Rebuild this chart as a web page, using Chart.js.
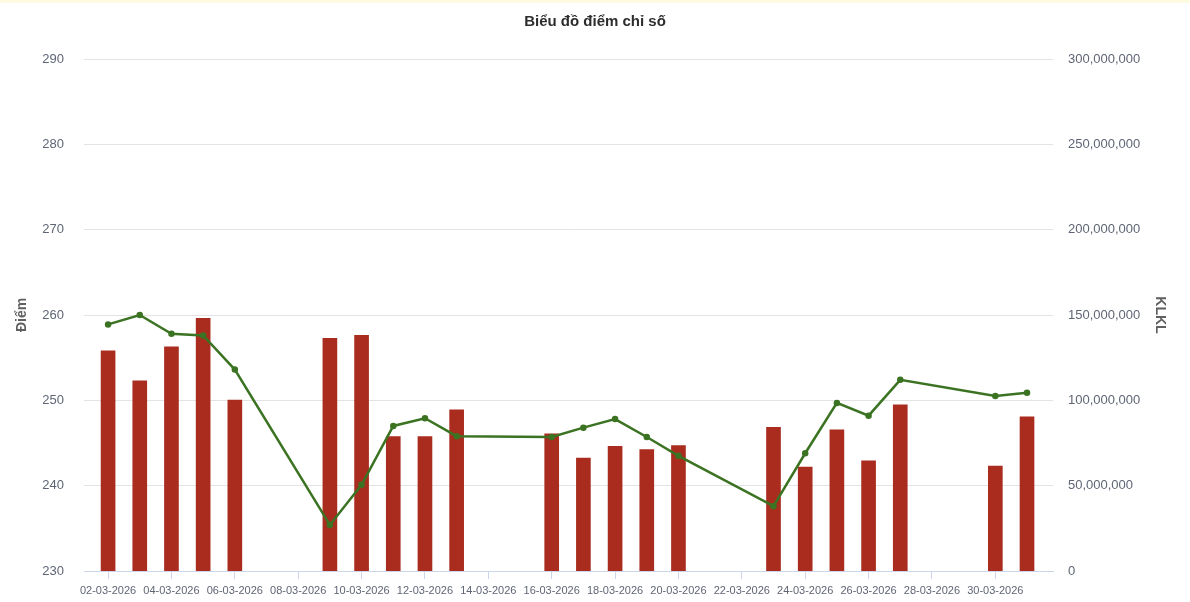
<!DOCTYPE html>
<html lang="vi">
<head>
    <meta charset="UTF-8">
    <title>Biểu đồ điểm chỉ số</title>
    <script src="https://cdn.jsdelivr.net/npm/chart.js"></script>
    <style>
        html, body { margin: 0; padding: 0; background: #fff; }
        body { border-top: 3px solid #fffbe3; }
        #wrap { width: 1190px; height: 599px; }
    </style>
</head>
<body>
    <div id="wrap"><canvas id="myChart"></canvas></div>
    <script>
        // ngày trong tháng 03-2026
        const days = [2, 3, 4, 5, 6, 9, 10, 11, 12, 13, 16, 17, 18, 19, 20, 23, 24, 25, 26, 27, 30, 31];
        // điểm chỉ số (trục trái)
        const points = [258.9, 260.0, 257.8, 257.6, 253.6, 235.4, 240.1, 247.0, 247.9, 245.8,
                        245.7, 246.8, 247.8, 245.7, 243.5, 237.6, 243.8, 249.7, 248.2, 252.4, 250.5, 250.9];
        // khối lượng khớp lệnh (trục phải)
        const volumes = [129000000, 111500000, 131300000, 148100000, 100200000, 136400000, 138100000, 78800000,
                         78800000, 94400000, 80400000, 66100000, 73000000, 71200000, 73500000, 84200000,
                         60900000, 82700000, 64600000, 97300000, 61500000, 90300000];
        const leftTicks = [230, 240, 250, 260, 270, 280, 290];
        const rightTicks = [0, 50000000, 100000000, 150000000, 200000000, 250000000, 300000000];

        const font = "'Liberation Sans', Arial, sans-serif";
        const labelColor = "#5f6574";

        let ctx = document.getElementById("myChart").getContext("2d");

        window.myChart = new Chart(ctx, {
            data: {
                datasets: [{
                    type: "line",
                    label: "Điểm",
                    data: days.map((d, i) => ({ x: d, y: points[i] })),
                    yAxisID: "y",
                    borderColor: "#3b7322",
                    backgroundColor: "#3b7322",
                    borderWidth: 2.5,
                    pointRadius: 2,
                    tension: 0,
                    order: 0
                }, {
                    type: "bar",
                    label: "KLKL",
                    data: days.map((d, i) => ({ x: d, y: volumes[i] })),
                    yAxisID: "y1",
                    backgroundColor: "#a92c1f",
                    borderWidth: 0,
                    barThickness: 14,
                    order: 1
                }]
            },
            options: {
                responsive: true,
                maintainAspectRatio: false,
                animation: false,
                layout: { padding: 0 },
                plugins: {
                    legend: { display: false },
                    tooltip: { enabled: false },
                    title: {
                        display: true,
                        text: "Biểu đồ điểm chỉ số",
                        color: "#2d2d2d",
                        font: { family: font, size: 15, weight: "bold" },
                        padding: { top: 10, bottom: 28 }
                    }
                },
                scales: {
                    x: {
                        type: "linear",
                        offset: false,
                        min: 1.24,
                        max: 31.82,
                        afterBuildTicks: axis => {
                            axis.ticks = [];
                            for (let d = 2; d <= 30; d += 2) axis.ticks.push({ value: d });
                        },
                        afterFit: axis => { axis.height = 31; },
                        grid: { display: true, drawOnChartArea: false, tickLength: 8, color: "#ccd6eb", offset: false },
                        border: { color: "#ccd6eb" },
                        ticks: {
                            color: labelColor,
                            padding: 5,
                            maxRotation: 0,
                            autoSkip: false,
                            font: { family: font, size: 11 },
                            callback: v => String(v).padStart(2, "0") + "-03-2026"
                        }
                    },
                    y: {
                        position: "left",
                        min: 230,
                        max: 290,
                        afterBuildTicks: axis => { axis.ticks = leftTicks.map(v => ({ value: v })); },
                        afterFit: axis => { axis.width = 84; },
                        grid: { color: "#e3e3e3", drawTicks: false, lineWidth: 1 },
                        border: { display: false },
                        title: {
                            display: true,
                            text: "Điểm",
                            color: "#606060",
                            font: { family: font, size: 14, weight: "bold" },
                            padding: { top: 14, bottom: 0 }
                        },
                        ticks: {
                            color: labelColor,
                            padding: 20,
                            font: { family: font, size: 13 }
                        }
                    },
                    y1: {
                        position: "right",
                        min: 0,
                        max: 300000000,
                        afterBuildTicks: axis => { axis.ticks = rightTicks.map(v => ({ value: v })); },
                        afterFit: axis => { axis.width = 137; },
                        grid: { display: false, drawTicks: false },
                        border: { display: false },
                        title: {
                            display: true,
                            text: "KLKL",
                            color: "#606060",
                            font: { family: font, size: 14, weight: "bold" },
                            padding: { top: 22, bottom: 0 }
                        },
                        ticks: {
                            color: labelColor,
                            padding: 15,
                            font: { family: font, size: 13 },
                            callback: v => v.toLocaleString("en-US")
                        }
                    }
                }
            }
        });
    </script>
</body>
</html>
